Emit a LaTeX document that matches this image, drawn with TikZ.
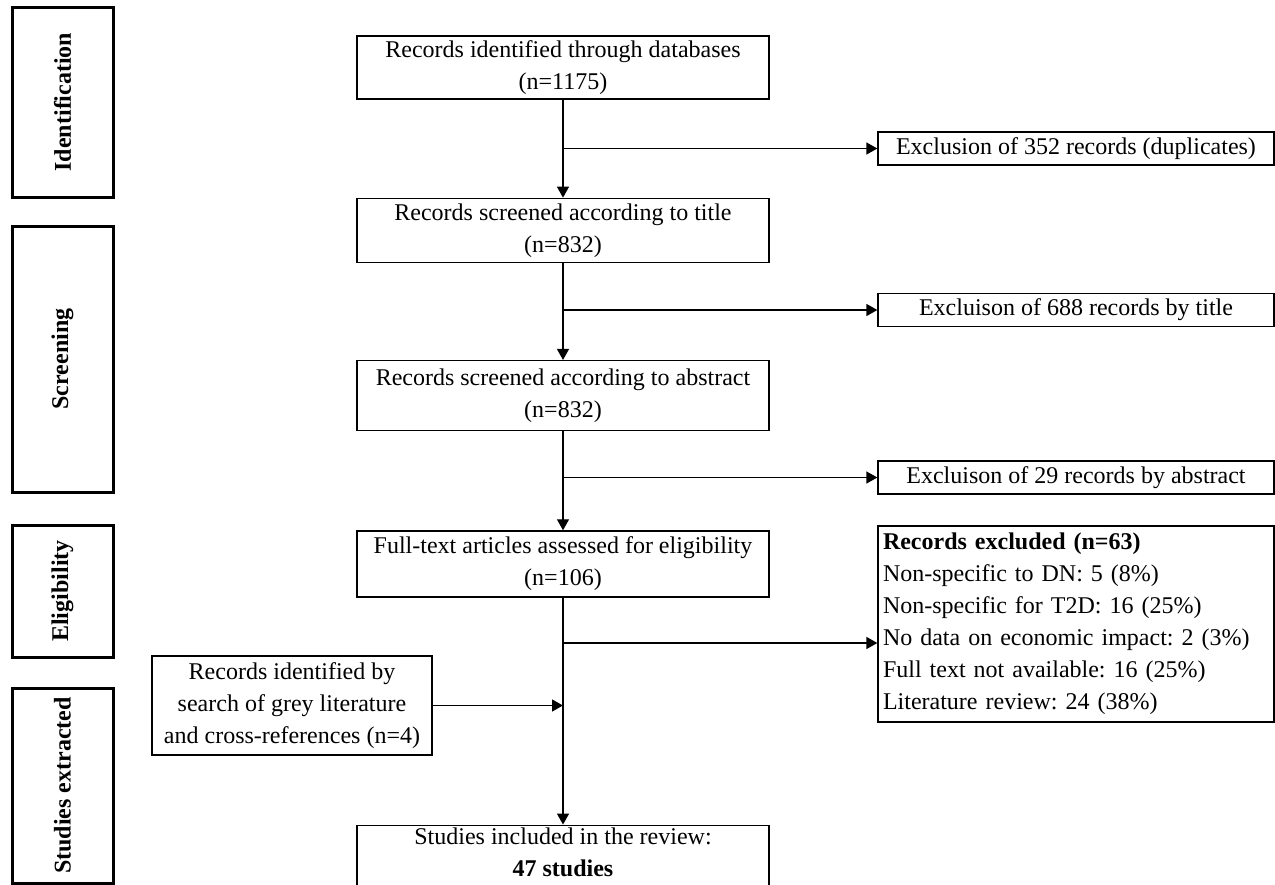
\documentclass[tikz,border=0pt]{standalone}
\usepackage{fontspec}
\setmainfont{Liberation Serif}
\usetikzlibrary{arrows.meta,positioning}
\frenchspacing

\begin{document}
\begin{tikzpicture}[
  x=0.5pt, y=-0.5pt,
  node distance=49pt,
  font=\fontsize{12}{16}\selectfont,
  box/.style={draw, line width=0.65pt, align=center, minimum width=206pt,
              minimum height=32pt, inner sep=2pt},
  exbox/.style={draw, line width=0.65pt, align=center, minimum width=198pt,
                minimum height=16.5pt, inner sep=1.5pt},
  phase/.style={draw, line width=1.5pt, rotate=90, minimum height=50.5pt,
                font=\fontsize{12}{16}\selectfont\bfseries},
  arr/.style={-{Triangle[length=5.5pt,width=6pt]}, line width=0.65pt}
]
\useasboundingbox (0,0) rectangle (1275,884);
\node[phase, minimum width=95pt] (ident) at (62.5,102) {Identification};
\node[phase, minimum width=133pt] (screen) at (62.5,359) {Screening};
\node[phase, minimum width=66pt] (elig) at (62.5,591) {Eligibility};
\node[phase, minimum width=97.5pt] (extr) at (62.5,785.5) {Studies extracted};
\node[box, minimum height=31.5pt] (recdb) at (563,67.5) {Records identified through databases\\(n=1175)};
\node[box, below=49pt of recdb] (title) {Records screened according to title\\(n=832)};
\node[box, below=48.5pt of title, minimum height=35pt] (abstr) {Records screened according to abstract\\(n=832)};
\node[box, below=49.5pt of abstr, minimum height=33pt] (full) {Full-text articles assessed for eligibility\\(n=106)};
\node[box, below=113.5pt of full, minimum height=0pt, inner ysep=1.5pt, text depth=9pt] (incl) {Studies included in the review:\\\textbf{47 studies}};
\node[exbox] (dup) at (1076,148.5) {Exclusion of 352 records (duplicates)};
\node[exbox] (bytitle) at (1076,310) {Excluison of 688 records by title};
\node[exbox] (byabs) at (1076,477.5) {Excluison of 29 records by abstract};
\node[draw, line width=0.65pt, align=left, text width=193pt, inner xsep=2.5pt,
      minimum height=98pt] (excl) at (1076,624)
  {\textbf{Records excluded (n=63)}\\Non-specific to DN: 5 (8\%)\\Non-specific for T2D: 16 (25\%)\\No data on economic impact: 2 (3\%)\\Full text not available: 16 (25\%)\\Literature review: 24 (38\%)};
\node[draw, line width=0.65pt, align=center, minimum width=140pt, minimum height=49.5pt,
      inner sep=2pt] (grey) at (292,705.5)
  {Records identified by\\search of grey literature\\and cross-references (n=4)};
\path (excl.west) ++(0,19) coordinate (exin);
\draw[arr] (recdb) -- (title);
\draw[arr] (recdb.south |- dup) -- (dup);
\draw[arr] (title) -- (abstr);
\draw[arr] (title.south |- bytitle) -- (bytitle);
\draw[arr] (abstr) -- (full);
\draw[arr] (abstr.south |- byabs) -- (byabs);
\draw[arr] (full) -- (incl);
\draw[arr] (full.south |- exin) -- (exin);
\draw[arr] (grey.east) -- (grey.east -| full.south);
\end{tikzpicture}
\end{document}
